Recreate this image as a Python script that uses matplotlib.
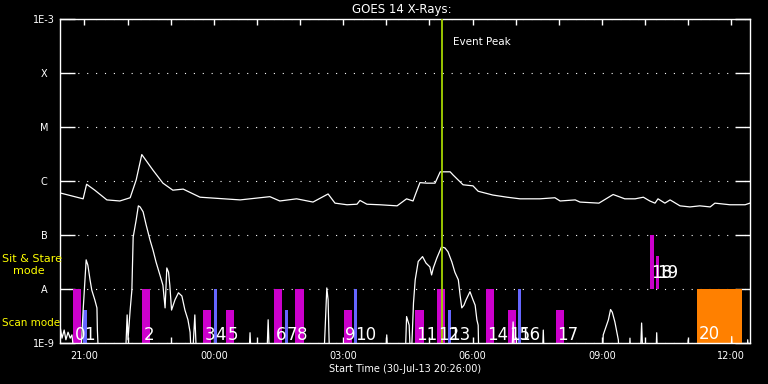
import numpy as np
import matplotlib
matplotlib.use("Agg")
import matplotlib.pyplot as plt

#%% datos: tiempo en horas UT (continua pasada la medianoche), flujo en log10(W/m2)
t_ini = 20 + 26/60.0
t_fin = t_ini + 16.0

# canal largo (1-8 A)
t_lar = [20.43, 20.97, 21.05, 21.24, 21.52, 21.82, 22.06, 22.20, 22.33, 22.59,
         22.82, 23.05, 23.29, 23.68, 24.61, 25.30, 25.53, 25.92, 26.30, 26.65,
         26.81, 27.09, 27.32, 27.39, 27.55, 27.85, 28.25, 28.47, 28.62, 28.67,
         28.78, 28.94, 29.13, 29.25, 29.32, 29.48, 29.55, 29.78, 30.01, 30.13,
         30.47, 30.80, 31.10, 31.56, 31.91, 32.03, 32.38, 32.49, 32.93, 33.26,
         33.53, 33.77, 33.96, 34.11, 34.23, 34.30, 34.46, 34.58, 34.81, 35.04,
         35.27, 35.51, 35.62, 35.97, 36.32, 36.43]
f_lar = [-6.22, -6.33, -6.06, -6.17, -6.35, -6.37, -6.31, -5.98, -5.51, -5.80,
         -6.04, -6.17, -6.15, -6.30, -6.35, -6.29, -6.37, -6.33, -6.39, -6.24,
         -6.41, -6.44, -6.43, -6.36, -6.43, -6.44, -6.46, -6.33, -6.37, -6.26,
         -6.03, -6.04, -6.04, -5.83, -5.83, -5.83, -5.89, -6.07, -6.09, -6.19,
         -6.26, -6.30, -6.33, -6.33, -6.31, -6.37, -6.35, -6.39, -6.41, -6.25,
         -6.33, -6.33, -6.30, -6.37, -6.41, -6.33, -6.41, -6.35, -6.46, -6.48,
         -6.46, -6.48, -6.41, -6.44, -6.44, -6.41]

# canal corto (0.5-4 A), -9.5 = por debajo del eje
t_cor = [20.43, 20.48, 20.53, 20.57, 20.62, 20.67, 20.71, 20.80, 20.90, 20.97,
         21.04, 21.08, 21.13, 21.17, 21.24, 21.29, 21.30, 21.34, 21.94, 21.99,
         22.01, 22.06, 22.10, 22.13, 22.20, 22.25, 22.29, 22.36, 22.43, 22.52,
         22.59, 22.66, 22.75, 22.82, 22.87, 22.91, 22.95, 22.98, 23.02, 23.10,
         23.18, 23.26, 23.33, 23.40, 23.45, 23.49, 23.56, 23.61, 24.80, 24.84,
         24.88, 25.22, 25.26, 25.30, 26.54, 26.58, 26.62, 26.65, 26.69, 27.97,
         28.01, 28.05, 28.43, 28.47, 28.53, 28.57, 28.63, 28.67, 28.74, 28.84,
         28.92, 29.01, 29.05, 29.09, 29.17, 29.28, 29.36, 29.43, 29.52, 29.59,
         29.67, 29.71, 29.75, 29.80, 29.85, 29.94, 30.01, 30.06, 30.10, 30.13,
         30.15, 30.90, 30.94, 30.98, 31.61, 31.64, 31.67, 33.00, 33.03, 33.15,
         33.20, 33.24, 33.30, 33.38, 33.42, 33.62, 33.65, 33.68, 33.88, 33.92,
         33.96, 34.24, 34.27, 34.30, 34.97, 35.00, 35.03, 35.98, 36.01, 36.04,
         36.35, 36.38, 36.43]
f_cor = [-8.67, -8.91, -8.76, -8.94, -8.80, -8.91, -8.85, -9.5, -9.5, -8.39,
         -7.46, -7.56, -7.83, -8.02, -8.20, -8.35, -8.76, -9.5, -9.5, -8.48,
         -8.94, -8.39, -8.02, -7.04, -6.72, -6.46, -6.48, -6.57, -6.81, -7.09,
         -7.28, -7.50, -7.74, -7.93, -8.35, -7.61, -7.69, -7.93, -8.39, -8.20,
         -8.07, -8.13, -8.39, -8.57, -8.80, -9.5, -8.48, -9.5, -9.5, -8.81,
         -9.5, -9.5, -8.57, -9.5, -9.5, -8.76, -7.98, -8.20, -9.5, -9.5,
         -8.85, -9.5, -9.5, -8.51, -8.67, -9.5, -8.26, -7.83, -7.49, -7.40,
         -7.52, -7.59, -7.74, -7.61, -7.43, -7.22, -7.24, -7.31, -7.50, -7.69,
         -7.83, -8.11, -8.35, -8.30, -8.20, -8.05, -8.20, -8.30, -8.57, -8.67,
         -9.5, -9.5, -8.61, -9.5, -9.5, -8.76, -9.5, -9.5, -8.85, -8.57,
         -8.38, -8.43, -8.61, -8.94, -9.5, -9.5, -8.91, -9.5, -9.5, -8.63,
         -9.5, -9.5, -8.81, -9.5, -9.5, -8.94, -9.5, -9.5, -8.88, -9.5,
         -9.5, -8.94, -9.5]

# observaciones IRIS: inicio (h), duracion (h), base y tope (log10), tipo
obs_ini = [20.735, 20.967, 22.335, 23.749, 24.004, 24.283, 25.396, 25.651,
           25.883, 27.019, 27.251, 28.665, 29.175, 29.430, 30.311, 30.821,
           31.053, 31.934, 34.114, 34.253, 35.204]
obs_dur = [0.186, 0.093, 0.186, 0.186, 0.070, 0.186, 0.186, 0.070,
           0.200, 0.186, 0.070, 0.200, 0.186, 0.070, 0.186, 0.186,
           0.070, 0.186, 0.093, 0.070, 1.037]
obs_base = [-9]*18 + [-8, -8, -9]
obs_tope = [-8, -8.39, -8, -8.39, -8, -8.39, -8, -8.39, -8, -8.39, -8,
            -8.39, -8, -8.39, -8, -8.39, -8, -8.39, -7, -7.39, -8]
obs_tipo = ['m', 'b', 'm', 'm', 'b', 'm', 'm', 'b', 'm', 'm', 'b', 'm',
            'm', 'b', 'm', 'm', 'b', 'm', 'm', 'm', 'o']
obs_etiq_y = [-8.94]*18 + [-7.80, -7.80, -8.93]

pico = 29.29

niveles = [-9, -8, -7, -6, -5, -4, -3]
niv_etiq = ['1E-9', 'A', 'B', 'C', 'M', 'X', '1E-3']
horas = [21, 24, 27, 30, 33, 36]
horas_etiq = ['21:00', '00:00', '03:00', '06:00', '09:00', '12:00']

colores = {'m': '#cc00cc', 'b': '#6666ff', 'o': '#ff8000'}

#%% grafico
plt.rcParams['font.family'] = ['DejaVu Sans']
fig = plt.figure(figsize=(7.68, 3.84), dpi=100, facecolor='black')
ax = fig.add_axes([60/768, 41/384, 690/768, 324/384])
ax.set_facecolor('black')
ax.set_yscale('log')
ax.set_xlim(t_ini, t_fin)
ax.set_ylim(1e-9, 1e-3)

for i in range(len(obs_ini)):
    b0 = 10.0**obs_base[i]
    ax.bar(obs_ini[i], 10.0**obs_tope[i] - b0, width=obs_dur[i], bottom=b0,
           align='edge', color=colores[obs_tipo[i]], zorder=2)
    ax.annotate(str(i), (obs_ini[i], 10.0**obs_etiq_y[i]), xytext=(1, 0),
                textcoords='offset points', color='white', fontsize=12,
                ha='left', va='baseline', zorder=5)

ax.plot(t_lar, 10.0**np.array(f_lar), color='white', lw=0.9, zorder=3)
ax.plot(t_cor, 10.0**np.array(f_cor), color='white', lw=0.9, zorder=3)
ax.axvline(pico, color='#a4d400', lw=1.3, zorder=4)
ax.text(pico + 0.255, 10**-3.435, 'Event Peak', color='white', fontsize=7.5,
        ha='left', va='center')

# ejes
for s in ax.spines.values():
    s.set_color('white')
    s.set_linewidth(1.0)
ax.set_yticks([10.0**n for n in niveles])
ax.set_yticklabels(niv_etiq)
ax.yaxis.set_minor_locator(matplotlib.ticker.NullLocator())
ax.tick_params(axis='y', which='major', direction='in', left=True, right=True,
               length=10.5, width=1, color='white', labelcolor='white',
               labelsize=7, pad=11.5)
for lab in ax.get_yticklabels():
    lab.set_ha('center')
ax.grid(axis='y', color='white', lw=0.8, linestyle=(0, (1, 7)))

ax.set_xticks(horas)
ax.set_xticklabels(horas_etiq)
ax.set_xticks(np.arange(21, 37), minor=True)
ax.tick_params(axis='x', which='both', direction='in', top=True, bottom=True,
               length=4.3, width=1, color='white', labelcolor='white',
               labelsize=7, pad=6)

fig.text(402/768, 1 - 9.5/384, 'GOES 14 X-Rays:', color='white', fontsize=8.5,
         ha='center', va='center')
fig.text(405/768, 1 - 368.5/384, 'Start Time (30-Jul-13 20:26:00)',
         color='white', fontsize=7, ha='center', va='center')
fig.text(2/768, 1 - 258.5/384, 'Sit & Stare', color='#ffff00', fontsize=8,
         ha='left', va='center')
fig.text(13/768, 1 - 271/384, 'mode', color='#ffff00', fontsize=8,
         ha='left', va='center')
fig.text(2/768, 1 - 323.5/384, 'Scan mode', color='#ffff00', fontsize=7.5,
         ha='left', va='center')

fig.savefig('out.png', dpi=100, facecolor='black')
